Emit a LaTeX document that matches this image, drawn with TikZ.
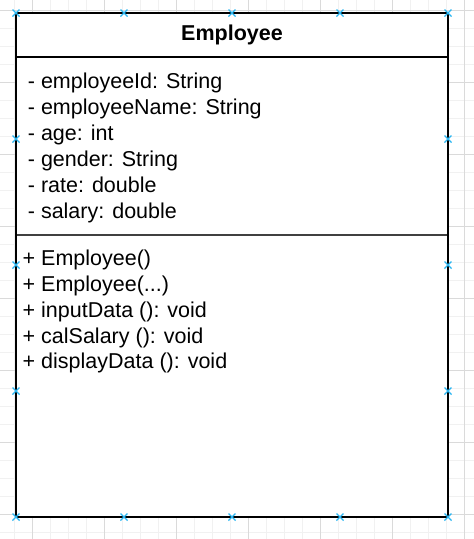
\documentclass[tikz,border=0pt]{standalone}
\usepackage{fontspec}
\setmainfont{Liberation Sans}
\definecolor{gridminor}{HTML}{F1F1F1}
\definecolor{gridmajor}{HTML}{DADADA}
\definecolor{selblue}{HTML}{29B6F2}
\tikzset{
  minorgrid/.style={draw=gridminor, line width=1pt},
  majorgrid/.style={draw=gridmajor, line width=1pt},
  classline/.style={draw=black, line width=1.6pt},
  member/.style={anchor=base west, inner sep=0pt, font=\fontsize{21.5}{25}\selectfont},
  selmark/.style={draw=selblue, line width=1.4pt}
}
\begin{document}
\begin{tikzpicture}[x=1pt, y=-1pt]
    \useasboundingbox (0,0) rectangle (474,539);
    \fill[white] (0,0) rectangle (474,539);

    % griglia di sfondo
    \foreach \xx in {14.5,32.5,...,464.5}
        \draw[minorgrid] (\xx,0) -- (\xx,539);
    \foreach \yy in {10.5,28.5,...,532.5}
        \draw[minorgrid] (0,\yy) -- (474,\yy);
    \foreach \xx in {32.5,104.5,...,464.5}
        \draw[majorgrid] (\xx,0) -- (\xx,539);
    \foreach \yy in {10.5,82.5,...,514.5}
        \draw[majorgrid] (0,\yy) -- (474,\yy);

    % classe
    \coordinate (NW) at (16,13);
    \coordinate (SE) at (448,517);
    \fill[white] (NW) rectangle (SE);
    \draw[classline] (16,57) -- (448,57);
    \draw[classline, draw=black!75] (16,235) -- (448,235);
    \draw[classline] (NW) rectangle (SE);

    % intestazione
    \node[member, anchor=base, font=\fontsize{21.5}{25}\selectfont\bfseries] (title) at (232,40) {Employee};

    % attributi
    \node[member] (attr1) at (27.7,88) {- employeeId: String};
    \node[member] (attr2) at (27.7,114) {- employeeName: String};
    \node[member] (attr3) at (27.7,140) {- age: int};
    \node[member] (attr4) at (27.7,166) {- gender: String};
    \node[member] (attr5) at (27.7,192) {- rate: double};
    \node[member] (attr6) at (27.7,218) {- salary: double};

    % metodi
    \node[member] (meth1) at (22.5,265.7) {+ Employee()};
    \node[member] (meth2) at (22.5,291.5) {+ Employee(...)};
    \node[member] (meth3) at (22.5,317.2) {+ inputData (): void};
    \node[member] (meth4) at (22.5,343) {+ calSalary (): void};
    \node[member] (meth5) at (22.5,368.7) {+ displayData (): void};

    % maniglie di selezione
    \foreach \mx/\my in {16/13,124/13,232/13,340/13,448/13,
                         16/517,124/517,232/517,340/517,448/517,
                         16/139,16/265,16/391,448/139,448/265,448/391} {
        \draw[selmark] (\mx-3.5,\my-3.5) -- (\mx+3.5,\my+3.5);
        \draw[selmark] (\mx-3.5,\my+3.5) -- (\mx+3.5,\my-3.5);
    }
\end{tikzpicture}
\end{document}
